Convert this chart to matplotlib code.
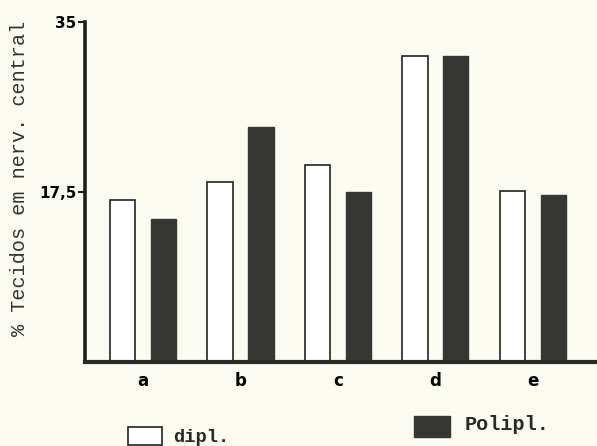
import matplotlib
matplotlib.use("Agg")
import matplotlib.pyplot as plt
import numpy as np
from matplotlib.patches import Rectangle

categories = ["a", "b", "c", "d", "e"]
dipl = [16.7, 18.5, 20.3, 31.5, 17.6]
polipl = [14.7, 24.2, 17.5, 31.5, 17.2]
yticks = [17.5, 35]
ytick_labels = ["17,5", "35"]

BG = "#fbfbf1"
DARK = "#363633"

fig = plt.figure(figsize=(5.97, 4.46), dpi=100, facecolor=BG)
ax = fig.add_axes([0.142, 0.188, 0.858, 0.763], facecolor=BG)

x = np.arange(len(categories))
w = 0.26
ax.bar(x - 0.21, dipl, w, color="white", edgecolor="#222222", linewidth=1.2)
ax.bar(x + 0.21, polipl, w, color=DARK, edgecolor=DARK, linewidth=1.0)

ax.set_xlim(-0.6, 4.66)
ax.set_ylim(0, 35)

for s in ("top", "right"):
    ax.spines[s].set_visible(False)
ax.spines["left"].set_linewidth(2.6)
ax.spines["bottom"].set_linewidth(3.0)
ax.spines["left"].set_color("#1e1e1e")
ax.spines["bottom"].set_color("#2a2a2a")

ax.set_yticks(yticks)
ax.set_yticklabels(ytick_labels, fontsize=11, fontweight="bold", family="DejaVu Sans")
ax.tick_params(axis="y", length=5, width=1.5, pad=1, color="#1e1e1e")
ax.set_xticks(x)
ax.set_xticklabels(categories, fontsize=12, fontweight="bold")
ax.tick_params(axis="x", length=0, pad=7)

fig.text(0.032, 0.60, "% Tecidos em nerv. central", rotation=90,
         ha="center", va="center", fontsize=14.5, family="Liberation Mono",
         color="#333333")

# legend
fig.add_artist(Rectangle((128 / 597, 0.002), 34 / 597, 18 / 446,
                         transform=fig.transFigure, facecolor="white",
                         edgecolor="#222222", linewidth=1.2))
fig.text(173 / 597, 1 - 437 / 446, "dipl.", ha="left", va="center",
         fontsize=13.5, fontweight="bold", family="Liberation Mono", color="#2a2a2a")
fig.add_artist(Rectangle((414 / 597, 1 - 437 / 446), 36 / 597, 21 / 446,
                         transform=fig.transFigure, facecolor=DARK,
                         edgecolor=DARK))
fig.text(465 / 597, 1 - 424 / 446, "Polipl.", ha="left", va="center",
         fontsize=14.5, fontweight="bold", family="Liberation Mono", color="#2a2a2a")

fig.savefig("out.png", dpi=100, facecolor=BG)
